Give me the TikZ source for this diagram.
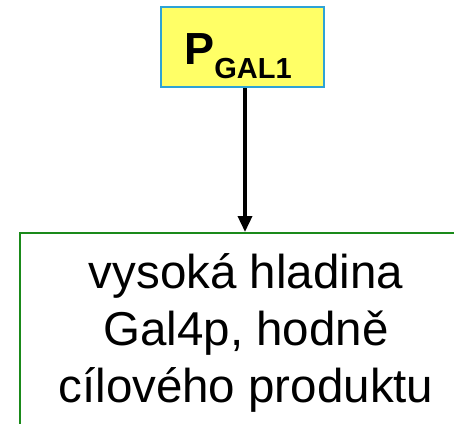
\documentclass[tikz,border=0pt]{standalone}
\usepackage{fontspec}
\setmainfont{Liberation Sans}
\usetikzlibrary{arrows.meta}
\definecolor{pyellow}{HTML}{FFFF66}
\definecolor{pblue}{HTML}{2EA3D6}
\definecolor{pgreen}{HTML}{1A8A1A}
\begin{document}
\begin{tikzpicture}[x=1pt,y=-1pt,
  promoter/.style={draw=pblue, line width=2pt, fill=pyellow, inner sep=0pt,
    minimum width=163pt, text height=57pt, text depth=23pt},
  outcome/.style={draw=pgreen, line width=1.5pt, inner sep=0pt,
    minimum width=452pt, minimum height=260pt},
  outtext/.style={align=center, inner sep=0pt, font=\fontsize{47.5}{57}\selectfont},
  conn/.style={line width=3.5pt, -{Triangle[length=16pt,width=14pt]}}]
\useasboundingbox (0,0) rectangle (454,423);
\clip (0,0) rectangle (454,423);
\fill[white] (0,0) rectangle (454,423);
\node[promoter, anchor=base] (pbox) at (242,64) {\fontsize{45}{45}\selectfont\bfseries P\raisebox{-14pt}{\fontsize{29}{29}\selectfont\bfseries GAL1}\hspace*{8pt}};
\node[outcome, anchor=north] (outbox) at (246,232) {};
\node[outtext] (outtxt) at (246,333) {vysoká hladina\\Gal4p, hodně\\cílového produktu};
\draw[conn] (pbox.south -| 245,0) -- (245,232);
\end{tikzpicture}
\end{document}
